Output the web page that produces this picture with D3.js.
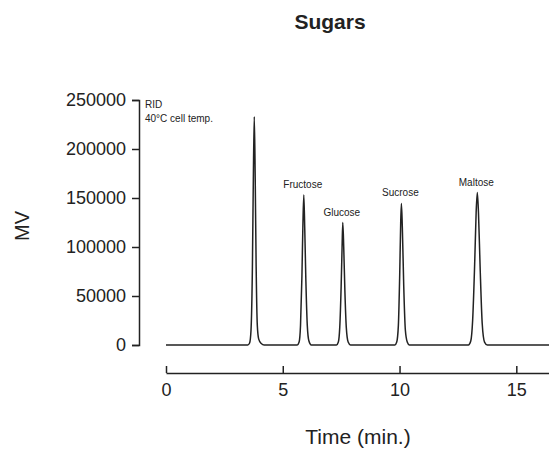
<!DOCTYPE html>
<html lang="en">
<head>
    <meta charset="UTF-8">
    <title>Sugars</title>
    <script src="https://d3js.org/d3.v7.min.js"></script>
    <style>
        body { margin: 0; background: #fff; font-family: Arial, "Liberation Sans", sans-serif; }
        svg { display: block; }
    </style>
</head>
<body>
    <svg id="chart" width="549" height="451"></svg>
    <script>
        // chromatogram trace: [time (min), signal (MV)]
        const baseline = [[0, 0], [3.50, 0]];
        const peakUnknown = [[3.58, 2000], [3.64, 15000], [3.70, 80000], [3.74, 170000], [3.78, 233000],
            [3.82, 170000], [3.86, 80000], [3.91, 20000], [3.97, 6000], [4.08, 1500], [4.20, 0]];
        const peakFructose = [[5.62, 0], [5.70, 3000], [5.76, 20000], [5.82, 70000], [5.86, 120000], [5.90, 153000],
            [5.94, 120000], [5.99, 65000], [6.05, 20000], [6.12, 4000], [6.22, 0]];
        const peakGlucose = [[7.30, 0], [7.38, 3000], [7.44, 18000], [7.50, 60000], [7.54, 100000], [7.57, 125000],
            [7.61, 100000], [7.66, 55000], [7.72, 18000], [7.80, 3000], [7.90, 0]];
        const peakSucrose = [[9.80, 0], [9.88, 3000], [9.95, 20000], [10.01, 75000], [10.05, 125000], [10.08, 144500],
            [10.12, 120000], [10.18, 60000], [10.25, 15000], [10.33, 3000], [10.42, 0]];
        const peakMaltose = [[12.95, 0], [13.05, 4000], [13.13, 25000], [13.22, 85000], [13.28, 135000], [13.33, 155500],
            [13.38, 135000], [13.45, 80000], [13.54, 22000], [13.64, 3000], [13.76, 0], [16.4, 0]];

        const peakNames = ["Fructose", "Glucose", "Sucrose", "Maltose"];
        const peakTimes = [5.90, 7.57, 10.08, 13.33];
        const peakHeights = [153000, 125000, 144500, 155500];

        const xTicks = [0, 5, 10, 15];
        const yTicks = [0, 50000, 100000, 150000, 200000, 250000];

        const trace = [].concat(baseline, peakUnknown, peakFructose, peakGlucose, peakSucrose, peakMaltose);

        const svg = d3.select("#chart");
        const ink = "#222";

        const x = d3.scaleLinear().domain([0, 16.4]).range([166, 549]);
        const y = d3.scaleLinear().domain([0, 250000]).range([345, 100]);

        // title
        svg.append("text")
            .attr("x", 330).attr("y", 29)
            .attr("text-anchor", "middle")
            .attr("font-size", 21).attr("font-weight", "bold")
            .attr("fill", ink)
            .text("Sugars");

        // y axis
        const yAxis = svg.append("g")
            .attr("transform", "translate(139,0)")
            .call(d3.axisLeft(y).tickValues(yTicks).tickSize(7).tickPadding(6).tickFormat(d3.format("d")));
        yAxis.select(".domain").attr("stroke", ink).attr("stroke-width", 1.5);
        yAxis.selectAll(".tick line").attr("stroke", ink).attr("stroke-width", 1.5);
        yAxis.selectAll(".tick text")
            .attr("font-size", 18).attr("font-family", "Arial, 'Liberation Sans', sans-serif")
            .attr("fill", ink);

        // x axis, ticks pointing up
        const xAxis = svg.append("g")
            .attr("transform", "translate(0,373)")
            .call(d3.axisBottom(x).tickValues(xTicks).tickSizeInner(-7).tickSizeOuter(0).tickPadding(10));
        xAxis.select(".domain").attr("stroke", ink).attr("stroke-width", 1.5);
        xAxis.selectAll(".tick line").attr("stroke", ink).attr("stroke-width", 1.5);
        xAxis.selectAll(".tick text")
            .attr("font-size", 18).attr("font-family", "Arial, 'Liberation Sans', sans-serif")
            .attr("fill", ink)
            .attr("dy", "0.71em");

        // axis titles
        svg.append("text")
            .attr("x", 358).attr("y", 444)
            .attr("text-anchor", "middle")
            .attr("font-size", 21).attr("fill", ink)
            .text("Time (min.)");

        svg.append("text")
            .attr("transform", "translate(29,226) rotate(-90)")
            .attr("text-anchor", "middle")
            .attr("font-size", 20).attr("fill", ink)
            .text("MV");

        // trace
        const line = d3.line()
            .x(d => x(d[0]))
            .y(d => y(d[1]))
            .curve(d3.curveMonotoneX);

        svg.append("path")
            .datum(trace)
            .attr("fill", "none")
            .attr("stroke", ink)
            .attr("stroke-width", 1.5)
            .attr("stroke-linejoin", "round")
            .attr("d", line);

        // peak labels
        svg.selectAll(".peak-label")
            .data(peakNames)
            .join("text")
            .attr("class", "peak-label")
            .attr("x", (d, i) => x(peakTimes[i]) - 1)
            .attr("y", (d, i) => y(peakHeights[i]) - 7)
            .attr("text-anchor", "middle")
            .attr("font-size", 10).attr("fill", ink)
            .text(d => d);

        // detector note
        const note = svg.append("text")
            .attr("x", 145).attr("y", 108)
            .attr("font-size", 10).attr("fill", ink);
        note.append("tspan").attr("x", 145).text("RID");
        note.append("tspan").attr("x", 145).attr("dy", 13.5).text("40\u00B0C cell temp.");
    </script>
</body>
</html>
